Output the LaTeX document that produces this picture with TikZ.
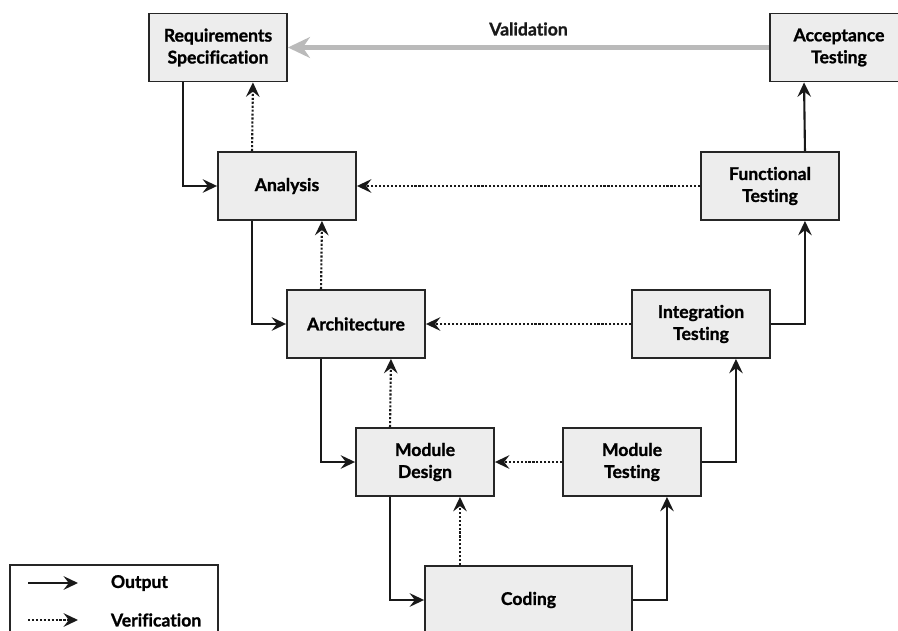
\documentclass[tikz,border=0pt]{standalone}
\usepackage{fontspec}
\setsansfont{Lato}[Ligatures=NoCommon,BoldFeatures={FakeBold=1.2}]
\usetikzlibrary{arrows.meta,positioning,calc}

\begin{document}
\begin{tikzpicture}[x=0.025cm,y=-0.025cm]
		\tikzset{
			stage/.style={
					draw=black!85, line width=1.3pt, fill=black!7,
					minimum width=3.45cm, minimum height=1.7cm, align=center,
					font=\sffamily\bfseries\fontsize{12.5}{15.6}\selectfont,
				},
			legtext/.style={font=\sffamily\bfseries\fontsize{12.5}{15.6}\selectfont},
			output/.style={-{Stealth[length=3.6mm,width=3.4mm,inset=1.3mm]}, line width=1.5pt, black!90},
			verif/.style={output, dash pattern=on 1.5pt off 1.3pt},
			valid/.style={-{Stealth[length=5.5mm,width=5.2mm,inset=1.8mm]}, line width=4.2pt, black!27},
		}
		\useasboundingbox (0,0) rectangle (898,630);
		\clip (0,0) rectangle (898,630);
		% left leg of the V
		\node[stage] (req) at (218,47.5) {Requirements\\Specification};
		\node[stage] (ana) at ($(req)+(69,138.5)$) {Analysis};
		\node[stage] (arc) at ($(ana)+(69,138)$) {Architecture};
		\node[stage] (mdd) at ($(arc)+(69,138)$) {Module\\Design};
		\node[stage, minimum width=5.175cm] (cod) at ($(mdd)+(103.5,138)$) {Coding};
		% right leg of the V
		\node[stage] (mdt) at ($(cod)+(103.5,-138)$) {Module\\Testing};
		\node[stage] (int) at ($(mdt)+(69,-138)$) {Integration\\Testing};
		\node[stage] (fun) at ($(int)+(69,-138)$) {Functional\\Testing};
		\node[stage] (acc) at ($(fun)+(69,-138.5)$) {Acceptance\\Testing};
		%
		\draw[output] ($(req.south west)!0.25!(req.south east)$) |- (ana.west);
		\draw[output] ($(ana.south west)!0.25!(ana.south east)$) |- (arc.west);
		\draw[output] ($(arc.south west)!0.25!(arc.south east)$) |- (mdd.west);
		\draw[output] ($(mdd.south west)!0.25!(mdd.south east)$) |- (cod.west);
		\draw[output] (cod.east) -| ($(mdt.south west)!0.75!(mdt.south east)$);
		\draw[output] (mdt.east) -| ($(int.south west)!0.75!(int.south east)$);
		\draw[output] (int.east) -| ($(fun.south west)!0.75!(fun.south east)$);
		\draw[output] ($(fun.north west)!0.75!(fun.north east)$) -- ($(acc.south west)!0.25!(acc.south east)$);
		%
		\draw[verif] ($(ana.north west)!0.25!(ana.north east)$) -- ($(req.south west)!0.75!(req.south east)$);
		\draw[verif] ($(arc.north west)!0.25!(arc.north east)$) -- ($(ana.south west)!0.75!(ana.south east)$);
		\draw[verif] ($(mdd.north west)!0.25!(mdd.north east)$) -- ($(arc.south west)!0.75!(arc.south east)$);
		\coordinate (mddv) at ($(mdd.south west)!0.75!(mdd.south east)$);
		\draw[verif] (cod.north -| mddv) -- (mddv);
		\draw[verif] (fun.west) -- (ana.east);
		\draw[verif] (int.west) -- (arc.east);
		\draw[verif] (mdt.west) -- (mdd.east);
		%
		\draw[valid] (acc.west) -- (req.east)
			node[midway, above=3pt, legtext, text=black!90] (vlab) {Validation};
		% legend
		\node[draw=black!85, line width=1.3pt, minimum width=5.2cm, minimum height=2cm] (legend) at (114,605) {};
		\coordinate (lo1) at (28,583);
		\coordinate (lo2) at (78,583);
		\coordinate (lv1) at (28,620);
		\coordinate (lv2) at (78,620);
		\draw[output] (lo1) -- (lo2);
		\draw[verif] (lv1) -- (lv2);
		\node[legtext, anchor=west] (lout) at (106,583) {Output};
		\node[legtext, anchor=west] (lver) at (106,620) {Verification};
	\end{tikzpicture}
\end{document}
